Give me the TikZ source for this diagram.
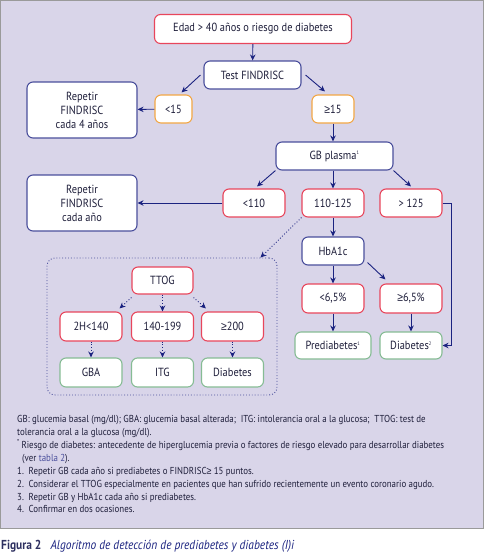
\documentclass[tikz,border=0pt]{standalone}
\usepackage{fontspec}
\setmainfont{PT Sans}[FakeStretch=0.88]
\newfontfamily\symf{Liberation Sans}[FakeStretch=0.88]
\newcommand{\mygeq}{{\symf ≥}}
\usetikzlibrary{arrows.meta,calc}
\definecolor{lav}{HTML}{D9D5E9}
\definecolor{frame}{HTML}{9A9A9A}
\definecolor{cred}{HTML}{E8465C}
\definecolor{cnavy}{HTML}{4A4F9C}
\definecolor{corange}{HTML}{F2A645}
\definecolor{cgreen}{HTML}{86BC94}
\definecolor{carrow}{HTML}{1B2380}
\definecolor{ctext}{HTML}{1E1E3A}
\definecolor{ccap}{HTML}{2E3060}
\tikzset{
  box/.style={draw, fill=white, rounded corners=6pt, line width=1.1pt, inner sep=0pt, align=center, text=ctext, font=\fontsize{11.8}{14}\selectfont},
  rbox/.style={box, draw=cred},
  nbox/.style={box, draw=cnavy},
  obox/.style={box, draw=corange},
  gbox/.style={box, draw=cgreen},
  arr/.style={draw=carrow, line width=0.9pt, -{Stealth[length=6pt,width=5.5pt]}},
  darr/.style={arr, dotted},
  note/.style={anchor=base west, inner sep=0pt, text=ctext, font=\fontsize{10.1}{11}\selectfont},
}
\begin{document}
\begin{tikzpicture}[x=1pt,y=-1pt]
\useasboundingbox (0,0) rectangle (484,555);
\draw[frame, fill=lav, line width=1pt] (0.5,0.5) rectangle (483.5,528);
% nodes
\node[rbox, minimum width=197, minimum height=29] (edad) at (253,29) {Edad > 40 años o riesgo de diabetes};
\node[nbox, minimum width=97, minimum height=28] (test) at (252.5,75) {Test FINDRISC};
\node[nbox, minimum width=110, minimum height=56] (rep4) at (82,110) {Repetir\\FINDRISC\\cada 4 años};
\node[obox, minimum width=37, minimum height=28] (lt15) at (173.5,109) {<15};
\node[obox, minimum width=42, minimum height=28] (ge15) at (333,109) {\mygeq 15};
\node[nbox, minimum width=117, minimum height=28] (gb) at (334.5,156) {GB plasma\textsuperscript{\tiny 1}};
\node[nbox, minimum width=110, minimum height=56] (rep1) at (82,203) {Repetir\\FINDRISC\\cada año};
\node[rbox, minimum width=62, minimum height=28] (lt110) at (254,203) {<110};
\node[rbox, minimum width=62, minimum height=28] (r110) at (333,203) {110-125};
\node[rbox, minimum width=62, minimum height=28] (gt125) at (411,203) {> 125};
\node[nbox, minimum width=62, minimum height=28] (hba) at (333,251) {HbA1c};
\node[rbox, minimum width=62, minimum height=29] (lt65) at (333,298.5) {<6,5\%};
\node[rbox, minimum width=62, minimum height=29] (ge65) at (411,298.5) {\mygeq 6,5\%};
\node[gbox, minimum width=76, minimum height=27] (pre) at (333,345.5) {Prediabetes\textsuperscript{\tiny 1}};
\node[gbox, minimum width=62, minimum height=27] (dia2) at (411,345.5) {Diabetes\textsuperscript{\tiny 2}};
% dotted group
\node[draw=cnavy, dotted, line width=0.9pt, rounded corners=8pt, minimum width=230, minimum height=137, inner sep=0pt] (grp) at (162,326.5) {};
\node[rbox, minimum width=61, minimum height=27] (ttog) at (162.5,280.5) {TTOG};
\node[rbox, minimum width=62, minimum height=29] (h140) at (91,326.5) {2H<140};
\node[rbox, minimum width=62, minimum height=29] (r140) at (162.5,326.5) {140-199};
\node[rbox, minimum width=62, minimum height=29] (ge200) at (232.5,326.5) {\mygeq 200};
\node[gbox, minimum width=62, minimum height=29] (gba) at (91,372.5) {GBA};
\node[gbox, minimum width=62, minimum height=29] (itg) at (162.5,372.5) {ITG};
\node[gbox, minimum width=62, minimum height=29] (diab) at (232.5,372.5) {Diabetes};
% connectors
\draw[arr] (edad) -- (test);
\draw[arr] ([xshift=-3pt]test.west) -- ([xshift=8pt,yshift=2pt]lt15.north);
\draw[arr] ([xshift=4pt]test.east) -- ([xshift=-8pt,yshift=3pt]ge15.north);
\draw[arr] (lt15) -- (rep4);
\draw[arr] (ge15) -- (ge15 |- gb.north);
\draw[arr] (gb.south west) -- ([xshift=3pt,yshift=2pt]lt110.north);
\draw[arr] (gb.south -| r110) -- (r110);
\draw[arr] (gb.south east) -- ([yshift=2pt]gt125.north);
\draw[arr] (lt110) -- (rep1);
\draw[arr] (gt125.east) -- ++(9,0) |- (dia2.east);
\draw[arr] (r110) -- (hba);
\draw[darr] (r110.south west) -- ([xshift=-17pt]grp.north east);
\draw[arr] (hba) -- (lt65);
\draw[arr] ([xshift=3pt,yshift=3pt]hba.south east) -- ([xshift=6pt,yshift=4pt]ge65.north west);
\draw[arr] (lt65) -- (pre);
\draw[arr] (ge65) -- (dia2);
\draw[darr] ([yshift=-3pt]ttog.south west) -- ([xshift=-3pt,yshift=3pt]h140.north east);
\draw[darr] (ttog) -- (r140);
\draw[darr] ([yshift=-3pt]ttog.south east) -- ([xshift=5pt,yshift=3pt]ge200.north west);
\draw[darr] (h140) -- (gba);
\draw[darr] (r140) -- (itg);
\draw[darr] (ge200) -- (diab);
% notes
\node[note] (n1) at (17,422) {GB: glucemia basal (mg/dl); GBA: glucemia basal alterada;\ \ ITG: intolerancia oral a la glucosa;\ \ TTOG: test de};
\node[note] (n2) at (17,435) {tolerancia oral a la glucosa (mg/dl).};
\node[note] (n3) at (17,448) {\textsuperscript{*}\,Riesgo de diabetes: antecedente de hiperglucemia previa o factores de riesgo elevado para desarrollar diabetes};
\node[note] (n4) at (22,461) {(ver \textcolor{cnavy}{tabla 2}).};
\node[note] (n5) at (17,474) {1.\ \ Repetir GB cada año si prediabetes o FINDRISC\mygeq\ 15 puntos.};
\node[note] (n6) at (17,487) {2.\ \ Considerar el TTOG especialmente en pacientes que han sufrido recientemente un evento coronario agudo.};
\node[note] (n7) at (17,500) {3.\ \ Repetir GB y HbA1c cada año si prediabetes.};
\node[note] (n8) at (17,512) {4.\ \ Confirmar en dos ocasiones.};
\node[anchor=base west, inner sep=0pt, font=\fontsize{13}{15}\selectfont, text=ccap] (cap) at (1,549) {\textbf{Figura 2}\ \ \ \textit{\textcolor{carrow}{Algoritmo de detección de prediabetes y diabetes (I)i}}};
\end{tikzpicture}
\end{document}
